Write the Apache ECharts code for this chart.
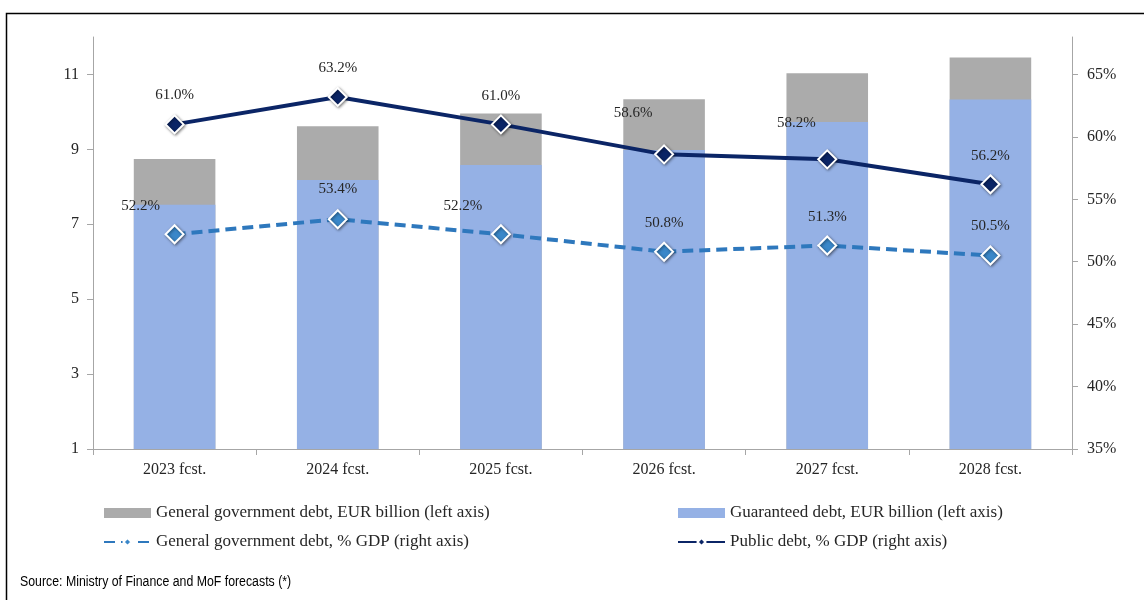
<!DOCTYPE html>
<html>
<head>
<meta charset="utf-8">
<script src="https://cdn.jsdelivr.net/npm/echarts@6/dist/echarts.min.js"></script>
<style>
  html, body { margin: 0; padding: 0; background: #fff; }
  #chart { width: 1144px; height: 600px; }
</style>
</head>
<body>
<div id="chart"></div>
<script>
// data
var categories = ['2023 fcst.', '2024 fcst.', '2025 fcst.', '2026 fcst.', '2027 fcst.', '2028 fcst.'];
var generalDebtEur = [8.74, 9.62, 9.96, 10.34, 11.03, 11.45];
var guaranteedDebtEur = [7.52, 8.18, 8.58, 8.98, 9.73, 10.33];
var generalDebtPct = [52.2, 53.4, 52.2, 50.8, 51.3, 50.5];
var publicDebtPct = [61.0, 63.2, 61.0, 58.6, 58.2, 56.2];
var leftTicks = [1, 3, 5, 7, 9, 11];
var rightTicks = [35, 40, 45, 50, 55, 60, 65];

// label placement (like the manual moves in the original)
var publicLabelShift = [[0, -29], [0, -29], [0, -28], [-31, -41], [-31, -36], [0, -28]];
var generalLabelShift = [[-34, -28], [0, -30], [-38, -28], [0, -29], [0, -28], [0, -29]];

var serif = "'Liberation Serif', 'DejaVu Serif', serif";
var axisGrey = '#a6a6a6';

function lineData(values, shifts) {
    return values.map(function (v, i) {
        return { value: v, label: { offset: shifts[i] } };
    });
}

var legendText = { fontFamily: serif, fontSize: 17, color: '#262626', lineHeight: 18 };

var chart = echarts.init(document.getElementById('chart'));
var option = {
    animation: false,
    backgroundColor: '#fff',
    grid: { left: 93, right: 72, top: 37, bottom: 151 },
    legend: [
        {
            left: 103, top: 504, orient: 'vertical', itemGap: 11, padding: 0,
            itemWidth: 47, itemHeight: 10,
            textStyle: legendText,
            data: [
                { name: 'General government debt, EUR billion (left axis)', icon: 'rect' },
                'General government debt, % GDP (right axis)'
            ]
        },
        {
            left: 677, top: 504, orient: 'vertical', itemGap: 11, padding: 0,
            itemWidth: 47, itemHeight: 10,
            textStyle: legendText,
            data: [
                { name: 'Guaranteed debt, EUR billion (left axis)', icon: 'rect' },
                'Public debt, % GDP (right axis)'
            ]
        }
    ],
    xAxis: {
        type: 'category',
        data: categories,
        axisLine: { lineStyle: { color: axisGrey, width: 1 } },
        axisTick: { show: true, alignWithLabel: false, length: 6, lineStyle: { color: axisGrey } },
        axisLabel: { fontFamily: serif, fontSize: 16, color: '#262626', margin: 13 }
    },
    yAxis: [
        {
            type: 'value', min: 1, max: 12, position: 'left',
            splitLine: { show: false },
            axisLine: { show: true, lineStyle: { color: axisGrey } },
            axisTick: { show: true, length: 6, customValues: leftTicks, lineStyle: { color: axisGrey } },
            axisLabel: { customValues: leftTicks, fontFamily: serif, fontSize: 16, color: '#262626', margin: 14 }
        },
        {
            type: 'value', min: 35, max: 68, position: 'right',
            splitLine: { show: false },
            axisLine: { show: true, lineStyle: { color: axisGrey } },
            axisTick: { show: true, length: 6, customValues: rightTicks, lineStyle: { color: axisGrey } },
            axisLabel: { customValues: rightTicks, formatter: '{value}%', fontFamily: serif, fontSize: 16, color: '#262626', margin: 15 }
        }
    ],
    series: [
        {
            name: 'General government debt, EUR billion (left axis)',
            type: 'bar', yAxisIndex: 0, barWidth: '50%',
            itemStyle: { color: '#ababab' },
            data: generalDebtEur
        },
        {
            name: 'Guaranteed debt, EUR billion (left axis)',
            type: 'bar', yAxisIndex: 0, barWidth: '50%', barGap: '-100%',
            itemStyle: { color: '#95b1e5' },
            data: guaranteedDebtEur
        },
        {
            name: 'General government debt, % GDP (right axis)',
            type: 'line', yAxisIndex: 1, z: 5,
            symbol: 'diamond', symbolSize: 18,
            lineStyle: { color: '#2e78bd', width: 4, type: [11, 6] },
            itemStyle: {
                color: '#3a87c9', borderColor: '#fff', borderWidth: 2,
                shadowBlur: 3, shadowColor: 'rgba(0,0,0,0.45)', shadowOffsetX: 1, shadowOffsetY: 1
            },
            label: {
                show: true, position: 'inside', formatter: function (p) { return p.value.toFixed(1) + '%'; },
                fontFamily: serif, fontSize: 15, color: '#262626'
            },
            data: lineData(generalDebtPct, generalLabelShift)
        },
        {
            name: 'Public debt, % GDP (right axis)',
            type: 'line', yAxisIndex: 1, z: 6,
            symbol: 'diamond', symbolSize: 18,
            lineStyle: { color: '#0b2566', width: 4 },
            itemStyle: {
                color: '#0b2566', borderColor: '#fff', borderWidth: 2,
                shadowBlur: 3, shadowColor: 'rgba(0,0,0,0.45)', shadowOffsetX: 1, shadowOffsetY: 1
            },
            label: {
                show: true, position: 'inside', formatter: function (p) { return p.value.toFixed(1) + '%'; },
                fontFamily: serif, fontSize: 15, color: '#262626'
            },
            data: lineData(publicDebtPct, publicLabelShift)
        }
    ],
    graphic: [
        {
            type: 'rect', silent: true, z: -1,
            shape: { x: 6.5, y: 13.5, width: 1200, height: 700 },
            style: { fill: null, stroke: '#000', lineWidth: 1.5 }
        },
        {
            type: 'text', x: 20, y: 575, scaleX: 0.88,
            style: {
                text: 'Source: Ministry of Finance and MoF forecasts (*)',
                font: "14px 'Liberation Sans', sans-serif",
                fill: '#000'
            }
        }
    ]
};
chart.setOption(option);
</script>
</body>
</html>
